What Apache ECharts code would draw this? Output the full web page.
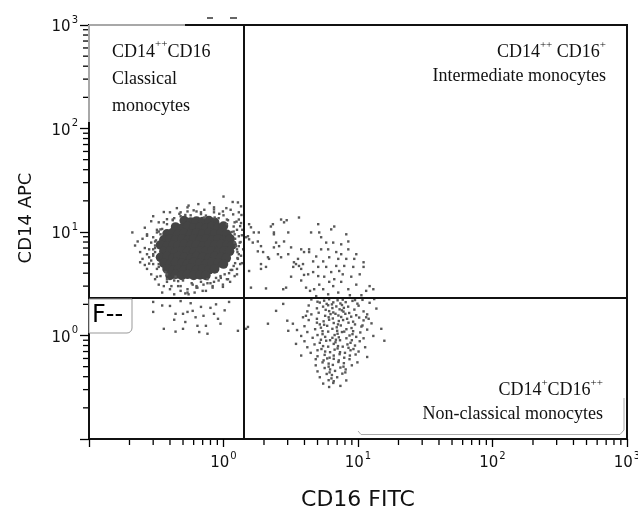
<!DOCTYPE html>
<html><head><meta charset="utf-8">
<script src="https://cdn.jsdelivr.net/npm/echarts@6/dist/echarts.min.js"></script>
<style>html,body{margin:0;padding:0;background:#fff}#c{width:638px;height:511px}</style>
</head><body><div id="c"></div>
<script>
// ---------------- data ----------------
const xTitle = 'CD16 FITC';
const yTitle = 'CD14 APC';
const axisRange = [0.1, 1000];          // both axes, log scale
const labelledExponents = [0, 1, 2, 3];  // 10^0 .. 10^3 labelled
const minorMultipliers = [2, 3, 4, 5, 6, 7, 8, 9];
const minorDecades = [0.1, 1, 10, 100];
const gateCD16 = 1.42;   // vertical quadrant gate (CD16 FITC)
const gateCD14 = 2.32;   // horizontal quadrant gate (CD14 APC)

// dense core of the classical monocyte population
const coreEvents = [
[0.51,12.9],[0.57,12.5],[0.63,12.8],[0.70,12.6],[0.78,12.9],[0.86,12.4],
[0.44,11.2],[0.49,10.9],[0.54,11.3],[0.60,11.0],[0.67,11.2],[0.74,10.9],[0.82,11.3],[0.91,11.0],[1.00,11.4],
[0.38,9.6],[0.42,9.9],[0.46,9.6],[0.51,9.8],[0.57,9.5],[0.63,9.8],[0.70,9.6],[0.78,9.9],[0.86,9.6],[0.96,9.8],[1.06,9.5],
[0.36,8.4],[0.40,8.6],[0.44,8.4],[0.49,8.6],[0.54,8.3],[0.60,8.6],[0.67,8.4],[0.74,8.6],[0.82,8.4],[0.91,8.6],[1.01,8.3],[1.12,8.6],
[0.34,7.5],[0.38,7.3],[0.42,7.5],[0.46,7.4],[0.51,7.6],[0.57,7.4],[0.63,7.5],[0.70,7.3],[0.78,7.5],[0.86,7.4],[0.96,7.6],[1.06,7.4],[1.16,7.5],
[0.36,6.5],[0.40,6.6],[0.44,6.4],[0.49,6.6],[0.54,6.5],[0.60,6.4],[0.67,6.6],[0.74,6.5],[0.82,6.6],[0.91,6.4],[1.01,6.6],[1.11,6.5],
[0.34,5.7],[0.38,5.8],[0.42,5.6],[0.46,5.8],[0.51,5.7],[0.57,5.6],[0.63,5.8],[0.70,5.7],[0.78,5.6],[0.86,5.8],[0.96,5.7],[1.05,5.6],
[0.36,5.0],[0.40,4.9],[0.44,5.1],[0.49,5.0],[0.54,4.9],[0.60,5.1],[0.67,5.0],[0.74,4.9],[0.82,5.1],[0.91,5.0],[1.00,4.9],
[0.38,4.4],[0.42,4.3],[0.46,4.4],[0.51,4.3],[0.57,4.5],[0.63,4.3],[0.70,4.4],[0.78,4.3],[0.86,4.4],
[0.40,3.8],[0.44,3.9],[0.49,3.8],[0.54,3.9],[0.60,3.8],[0.67,3.85],[0.74,3.8]
];

// sparse events around the classical core
const classicalEvents = [
[0.21,9.9],[0.23,8.1],[0.24,5.1],[0.25,5.5],[0.28,5.7],[0.27,4.4],[0.30,4.9],[0.30,6.8],[0.31,8.1],[0.32,9.9],
[0.34,3.75],[0.33,3.1],[0.36,3.0],[0.38,3.3],[0.40,2.8],[0.43,2.5],[0.48,2.7],[0.54,2.8],[0.55,2.5],[0.64,2.9],
[0.71,3.1],[0.76,3.5],[0.85,3.3],[0.95,3.75],[1.08,3.5],[1.19,4.7],[1.28,5.5],[1.24,7.3],[1.30,9.1],[1.19,11.3],
[1.30,13.2],[1.35,17.7],[1.13,16.4],[1.0,14.5],[0.85,15.5],[0.68,15.5],[0.57,14.5],[0.48,14.2],[0.42,13.2],[0.38,11.9],
[0.30,14.2],[0.34,10.6],[1.0,22],[1.28,19.3],[1.30,15.5],[0.40,15.5],[0.29,12.7],[0.54,15.8],[0.85,17.3],
[1.26,6.8],[1.30,6.1],[1.21,7.9],[1.19,10.1],[0.92,13.6],[0.74,14.4],[0.43,13.6],[0.33,10.1],[0.31,7.0],
[0.33,4.6],[0.43,3.4],[0.63,3.0],[0.92,3.4],[1.16,4.3],
[0.36,12.4],[0.47,15.0],[0.60,16.2],[0.72,13.8],[0.93,15.0],[1.08,13.0],[1.15,10.0],[1.22,8.6],[1.27,6.4],[1.22,5.0],
[1.10,4.0],[1.02,3.9],[0.88,3.6],[0.80,3.2],[0.68,3.3],[0.58,3.2],[0.50,3.4],[0.44,3.7],[0.37,4.1],[0.32,4.4],
[0.29,5.3],[0.30,6.1],[0.31,7.4],[0.30,8.9],[0.34,9.5],[0.26,7.0],[0.24,6.4],[0.27,9.2],[0.26,4.8],[1.34,8.0],
[1.33,11.4],[1.25,12.6],[0.55,18.0],[0.79,19.0],[1.17,19.5],[1.36,14.6],
[0.22,7.4],[0.25,8.6],[0.27,6.1],[0.29,3.9],[0.31,3.5],[0.35,2.6],[0.46,3.0],[0.52,2.55],[0.61,2.6],[0.70,2.7],
[0.83,2.9],[0.99,3.1],[1.12,3.3],[1.26,3.9],[1.33,4.9],[1.38,10.5],[1.35,12.2],[1.18,14.8],[1.05,17.0],[0.65,18.6],
[0.45,17.0],[0.36,15.6],[0.26,11.0],
[1.40,6.8],[1.32,7.9],[1.37,9.3],[1.26,10.5],[1.21,12.4],[1.06,13.2],[0.99,15.8],[0.85,16.5],[0.72,16.4],[0.63,15.8],
[0.54,17.3],[0.48,15.5],[0.38,13.3],[0.33,12.4],[0.32,10.5],[0.27,9.5],[0.29,7.9],[0.28,6.8],[0.30,5.9],[0.28,4.95],
[0.32,3.7],[0.38,3.5],[0.41,3.0],[0.48,3.0],[0.54,2.6],[0.63,2.9],[0.74,2.7],[0.83,3.0],[0.99,2.95],[1.06,3.5],
[1.21,3.75],[1.26,4.4],[1.37,5.0],[1.35,5.9],
[1.30,7.3],[1.21,9.5],[1.06,11.9],[0.86,13.8],[0.68,14.9],[0.52,14.6],[0.42,13.0],[0.35,10.7],[0.315,8.3],[0.31,6.4],
[0.33,4.9],[0.38,3.9],[0.46,3.35],[0.59,3.1],[0.76,3.2],[0.955,3.6],[1.13,4.3],[1.27,5.6]
];

// CD14 low, CD16 low events (lower-left quadrant)
const lowEvents = [
[0.30,1.69],[0.30,2.11],[0.40,1.93],[0.44,1.62],[0.50,1.62],[0.54,1.69],[0.59,1.73],[0.68,1.89],[0.74,1.24],[0.64,1.24],
[0.76,1.04],[0.95,1.30],[1.10,2.11],[0.36,1.16],[0.44,1.09],[0.50,1.16],[0.85,1.62],[0.91,1.45],[1.28,1.11],[0.35,1.95],
[0.48,2.15],[0.57,2.05],[0.62,1.50],[0.71,1.55],[0.80,1.85],[0.88,2.0],[1.02,1.75],[0.52,1.35],[0.43,1.42],[0.66,1.08]
];

// CD16 positive events (intermediate + non-classical)
const cd16Events = [
[1.55,11.9],[1.60,11.1],[1.52,9.1],[1.55,8.5],[1.83,9.9],[1.90,7.3],[1.80,6.5],[1.55,4.2],[1.90,4.4],[1.90,4.9],
[2.33,11.9],[2.37,9.9],[2.68,13.2],[2.82,12.4],[2.95,13.0],[2.46,7.9],[2.59,7.3],[2.37,7.1],[2.54,6.1],[2.68,5.7],
[2.18,5.5],[2.78,2.8],[2.92,2.9],[3.64,13.8],[3.03,9.9],[3.18,7.1],[3.34,5.1],[3.46,4.9],[3.64,4.7],[3.90,4.9],
[3.78,4.4],[3.97,6.4],[4.33,6.8],[4.48,9.9],[5.06,11.9],[5.15,9.9],[5.32,6.8],[4.89,5.8],[4.26,3.9],[4.64,4.1],
[4.11,2.9],[4.72,2.8],[5.06,3.75],[5.51,5.2],[5.80,4.6],[6.11,5.7],[6.32,10.6],[6.66,11.3],[6.54,7.9],[7.50,7.6],
[7.50,6.1],[8.18,9.5],[8.47,8.1],[8.47,6.8],[7.90,4.7],[7.25,4.2],[6.66,3.5],[6.11,3.3],[7.50,3.3],[8.47,2.8],
[8.91,3.7],[9.38,5.5],[9.71,6.1],[11.0,5.1],[11.0,4.6],[9.22,4.6],[12.2,3.0],[13.0,2.8],[5.51,2.8],[6.0,2.5],
[7.13,2.6],[3.97,3.85],[3.78,3.4],[5.06,4.6],[5.61,3.7],[6.32,4.1],[6.89,4.7],[8.18,5.5],[5.80,7.9],[6.89,6.4],
[5.32,8.9],[1.68,9.9],[1.80,8.1],[2.25,11.3],[2.37,9.5],[3.30,4.6],[2.14,5.7],[4.33,6.4],
[1.47,8.9],[1.65,7.9],[1.97,6.4],[2.07,4.6],[2.82,8.1],[3.03,6.1],[3.58,5.5],[3.78,6.8],[3.18,3.7],[4.40,2.7],
[4.89,2.4],[1.60,2.9],[2.07,2.85],[4.64,5.2],[6.0,6.8],[7.13,5.5],[7.7,3.9],[9.71,3.1],[10.3,3.9],[11.5,2.7],
[8.7,2.45],[6.54,3.0],[5.15,3.1],[10.6,2.45],
[4.5,2.23],[5.6,2.17],[6.1,2.24],[7.05,2.19],[7.7,2.22],[9.1,2.16],[10.8,2.21],
[5.2,2.08],[5.85,2.02],[6.55,2.09],[7.4,2.04],[8.1,2.1],[9.9,2.03],[12.2,2.07],
[4.3,1.95],[5.5,1.9],[6.0,1.96],[6.9,1.91],[7.6,1.97],[8.45,1.9],[10.1,1.94],
[4.95,1.83],[5.75,1.77],[6.45,1.84],[7.3,1.79],[7.85,1.85],[9.4,1.78],[13.7,1.82],
[4.2,1.71],[5.1,1.66],[6.1,1.72],[6.55,1.67],[7.8,1.7],[8.6,1.65],[11.0,1.71],
[4.5,1.6],[5.7,1.55],[6.25,1.61],[7.15,1.56],[8.05,1.62],[9.7,1.57],[11.7,1.6],
[3.9,1.5],[4.95,1.45],[6.05,1.5],[6.5,1.46],[7.5,1.51],[8.3,1.45],[10.2,1.49],
[4.3,1.41],[5.55,1.37],[6.1,1.42],[7.2,1.38],[7.75,1.41],[9.2,1.36],[11.0,1.4],
[3.28,1.3],[4.95,1.33],[5.6,1.27],[6.6,1.32],[7.1,1.28],[8.5,1.33],[9.5,1.28],[12.6,1.31],
[4.0,1.23],[5.3,1.19],[5.9,1.24],[6.95,1.2],[7.45,1.25],[8.95,1.18],[10.6,1.22],
[3.52,1.13],[4.8,1.15],[5.45,1.1],[6.45,1.16],[7.0,1.11],[8.2,1.15],[9.2,1.1],[11.7,1.14],
[4.2,1.08],[5.45,1.03],[6.0,1.09],[7.05,1.04],[7.6,1.08],[9.1,1.03],[10.4,1.07],
[3.78,0.99],[5.0,1.01],[5.7,0.97],[6.7,1.01],[7.2,0.96],[8.65,1.0],[9.7,0.97],[13.0,0.99],
[4.6,0.95],[5.3,0.91],[6.45,0.95],[6.85,0.91],[8.2,0.94],[9.0,0.9],[11.0,0.94],
[4.0,0.88],[5.2,0.85],[5.8,0.89],[6.8,0.86],[7.35,0.9],[8.8,0.85],[10.3,0.88],
[4.75,0.82],[5.5,0.79],[6.6,0.83],[7.1,0.79],[8.35,0.82],[9.5,0.8],
[4.2,0.77],[5.35,0.74],[6.0,0.78],[7.05,0.75],[7.7,0.78],[9.25,0.74],[11.3,0.77],
[5.0,0.72],[5.7,0.7],[6.7,0.73],[7.35,0.69],[8.8,0.72],[10.1,0.7],
[4.45,0.68],[5.65,0.65],[6.2,0.69],[7.3,0.66],[8.0,0.68],[9.6,0.655],
[5.0,0.63],[6.15,0.61],[6.6,0.64],[7.9,0.61],[8.7,0.64],[11.7,0.62],
[4.85,0.59],[5.55,0.575],[6.6,0.595],[7.2,0.575],[8.65,0.59],
[5.45,0.55],[6.05,0.535],[7.15,0.555],[7.85,0.54],[9.9,0.55],
[4.85,0.515],[6.05,0.5],[6.5,0.52],[7.8,0.5],[9.0,0.515],
[5.65,0.485],[6.2,0.47],[7.4,0.49],[8.1,0.47],
[5.0,0.45],[6.15,0.44],[6.75,0.455],[8.05,0.44],
[5.85,0.425],[6.4,0.415],[7.65,0.428],
[5.2,0.395],[6.35,0.385],[7.0,0.395],
[6.05,0.37],[6.6,0.362],[8.18,0.368],
[5.51,0.343],[6.55,0.348],
[6.1,0.318],[7.4,0.326],
[5.0,2.12],[6.8,1.62],[8.9,1.52],[5.2,1.28],[7.9,1.09],[6.2,0.9],[8.5,0.76],[5.9,0.6],[7.6,1.75],[10.8,1.25],
[12.0,1.45],[4.1,1.55],[9.5,2.2],[6.4,2.0],
[15.7,0.89],[13.2,2.25],[11.5,1.5],[14.9,1.16],[3.46,0.83],[2.98,1.39],[3.03,1.11],[2.14,1.30],[3.78,0.64],
[2.78,2.02],[2.46,1.73],[1.47,1.16],[1.52,1.21]
];

// quadrant annotations
const quadrantTL = ['CD14', '++', 'CD16', 'Classical', 'monocytes'];
const quadrantTR = ['CD14', '++', ' CD16', '+', 'Intermediate monocytes'];
const quadrantBR = ['CD14', '+', 'CD16', '++', 'Non-classical monocytes'];
const gateTag = 'F--';

// ---------------- chart ----------------
const minorTickValues = [];
minorDecades.forEach(d => minorMultipliers.forEach(m => minorTickValues.push(+(m * d).toPrecision(3))));

const INK = '#111';
const DOT = '#585858';
const supRich = {
  b: { fontFamily: 'DejaVu Sans', fontSize: 15, color: INK, padding: [5, 0, 0, 0] },
  s: { fontFamily: 'DejaVu Sans', fontSize: 10, color: INK, verticalAlign: 'top', padding: [0, 0, 0, 1] }
};
function powLabel(v) {
  const e = Math.round(Math.log10(v));
  if (labelledExponents.indexOf(e) < 0) return '';
  return '{b|10}{s|' + e + '}';
}

const chart = echarts.init(document.getElementById('c'), null, { renderer: 'canvas' });

const serifRich = {
  n: { fontFamily: 'Liberation Serif', fontSize: 18, fill: INK },
  s: { fontFamily: 'Liberation Serif', fontSize: 11, fill: INK, verticalAlign: 'top', lineHeight: 12 }
};
function richStyle(lh) {
  return { n: Object.assign({}, serifRich.n, { lineHeight: lh }), s: serifRich.s };
}
function dotSeries(name, data) {
  return { name: name, type: 'scatter', xAxisIndex: 0, yAxisIndex: 0, data: data,
    symbol: 'rect', symbolSize: 2.4, itemStyle: { color: DOT, opacity: 1 }, silent: true, z: 3 };
}

const baseGraphics = [
  { type: 'line', z: 50, shape: { x1: 89, y1: 25, x2: 185, y2: 25 }, style: { stroke: '#a8a8a8', lineWidth: 2 } },
  { type: 'line', z: 50, shape: { x1: 89, y1: 25, x2: 89, y2: 122 }, style: { stroke: '#a8a8a8', lineWidth: 2 } },
  { type: 'line', z: 50, shape: { x1: 207, y1: 18, x2: 213, y2: 18 }, style: { stroke: '#333', lineWidth: 1.5 } },
  { type: 'line', z: 50, shape: { x1: 230, y1: 18, x2: 237, y2: 18 }, style: { stroke: '#333', lineWidth: 1.5 } },
  { type: 'polyline', z: 50, shape: { points: [[358, 431], [361, 434.5], [620, 434.5], [624, 430], [624, 398]] }, style: { stroke: '#aaa', fill: null, lineWidth: 1 } },
  { type: 'rect', z: 50, shape: { x: 89, y: 299, width: 43, height: 34, r: [0, 0, 5, 0] }, style: { fill: '#fff', stroke: '#999', lineWidth: 1 } },
  { type: 'text', z: 51, x: 92, y: 316, style: { text: gateTag, fontFamily: 'DejaVu Sans', fontSize: 24, fill: '#000', verticalAlign: 'middle' } },
  { type: 'text', z: 51, x: 112, y: 39, style: {
      text: '{n|' + quadrantTL[0] + '}{s|' + quadrantTL[1] + '}{n|' + quadrantTL[2] + '}\n{n|' + quadrantTL[3] + '}\n{n|' + quadrantTL[4] + '}',
      rich: richStyle(27), fill: INK, align: 'left', verticalAlign: 'top' } },
  { type: 'text', z: 51, x: 606, y: 40, style: {
      text: '{n|' + quadrantTR[0] + '}{s|' + quadrantTR[1] + '}{n|' + quadrantTR[2] + '}{s|' + quadrantTR[3] + '}\n{n|' + quadrantTR[4] + '}',
      rich: richStyle(24), fill: INK, align: 'right', verticalAlign: 'top' } },
  { type: 'text', z: 51, x: 603, y: 378, style: {
      text: '{n|' + quadrantBR[0] + '}{s|' + quadrantBR[1] + '}{n|' + quadrantBR[2] + '}{s|' + quadrantBR[3] + '}\n{n|' + quadrantBR[4] + '}',
      rich: richStyle(24), fill: INK, align: 'right', verticalAlign: 'top' } }
];

const option = {
  animation: false,
  backgroundColor: '#fff',
  grid: { left: 89, right: 11, top: 25, bottom: 72, outerBoundsMode: 'none', containLabel: false,
          show: true, borderColor: INK, borderWidth: 2, backgroundColor: 'transparent' },
  xAxis: {
    type: 'log', logBase: 10, min: axisRange[0], max: axisRange[1], position: 'bottom',
    name: xTitle, nameLocation: 'middle', nameGap: 50,
    nameTextStyle: { fontFamily: 'DejaVu Sans', fontSize: 22, color: INK },
    axisLine: { onZero: false, lineStyle: { color: INK, width: 2 } },
    axisTick: { length: 8, lineStyle: { color: '#000', width: 1.3 } },
    axisLabel: { margin: 12, formatter: powLabel, rich: supRich },
    splitLine: { show: false }, minorTick: { show: false }
  },
  yAxis: {
    type: 'log', logBase: 10, min: axisRange[0], max: axisRange[1], position: 'left',
    name: yTitle, nameLocation: 'middle', nameGap: 54,
    nameTextStyle: { fontFamily: 'DejaVu Sans', fontSize: 18, color: INK, padding: [0, 0, 0, 28] },
    axisLine: { onZero: false, lineStyle: { color: INK, width: 2 } },
    axisTick: { length: 9, lineStyle: { color: '#000', width: 1.3 } },
    axisLabel: { margin: 11, formatter: powLabel, rich: supRich },
    splitLine: { show: false }, minorTick: { show: false }
  },
  series: [
    {
      name: 'Classical core', type: 'scatter', xAxisIndex: 0, yAxisIndex: 0,
      data: coreEvents, symbol: 'circle', symbolSize: 9.5,
      itemStyle: { color: '#444', opacity: 1 }, silent: true, z: 3
    },
    dotSeries('Classical', classicalEvents),
    dotSeries('CD14 low', lowEvents),
    Object.assign(dotSeries('CD16+', cd16Events), {
      markLine: {
        silent: true, symbol: 'none', animation: false,
        label: { show: false },
        lineStyle: { color: INK, width: 2, type: 'solid', opacity: 1 },
        emphasis: { disabled: true },
        data: [{ xAxis: gateCD16 }, { yAxis: gateCD14 }]
      }
    })
  ],
  graphic: baseGraphics
};
chart.setOption(option);

// minor log ticks (2..9 of each decade), positioned through the axes' own log scales
const finder = { xAxisIndex: 0, yAxisIndex: 0 };
const tickGraphics = [];
minorTickValues.forEach(v => {
  const px = chart.convertToPixel(finder, [v, axisRange[0]]);
  const py = chart.convertToPixel(finder, [axisRange[0], v]);
  if (px) {
    tickGraphics.push({ type: 'line', z: 49, silent: true,
      shape: { x1: px[0], y1: px[1] + 1, x2: px[0], y2: px[1] + 6 }, style: { stroke: '#000', lineWidth: 1.3 } });
  }
  if (py) {
    tickGraphics.push({ type: 'line', z: 49, silent: true,
      shape: { x1: py[0] - 6, y1: py[1], x2: py[0] - 1, y2: py[1] }, style: { stroke: '#000', lineWidth: 1.3 } });
  }
});
chart.setOption({ graphic: baseGraphics.concat(tickGraphics) });
</script>
</body></html>
